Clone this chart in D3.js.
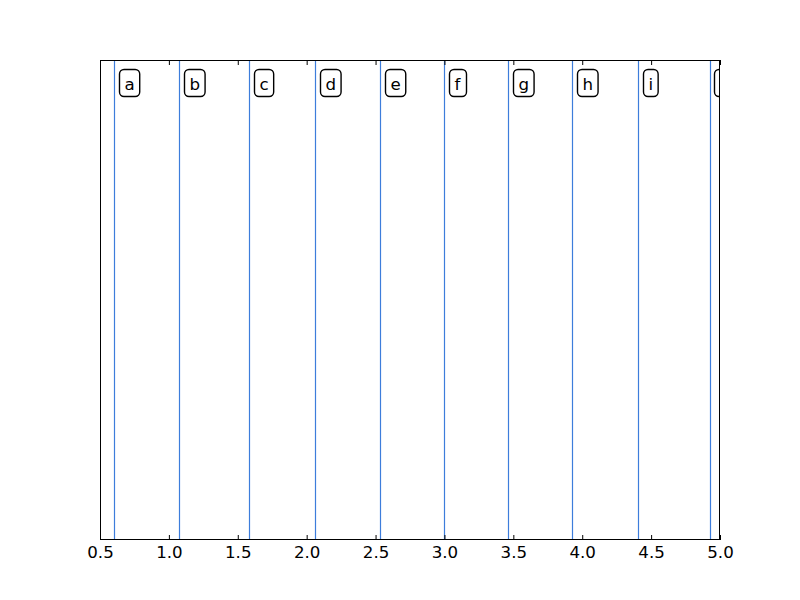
<!DOCTYPE html>
<html><head><meta charset="utf-8">
<script src="https://cdn.jsdelivr.net/npm/d3@7"></script>
<style>body{margin:0;background:#fff}svg{display:block}</style>
</head><body>
<svg id="c" width="800" height="600"></svg>
<script>
const labels = ["a","b","c","d","e","f","g","h","i","j"];
const positions = [0.605, 1.070, 1.578, 2.064, 2.532, 3.000, 3.461, 3.929, 4.405, 4.924];
const xTicks = [0.5, 1.0, 1.5, 2.0, 2.5, 3.0, 3.5, 4.0, 4.5, 5.0];
const xDomain = [0.5, 5.0];

const svg = d3.select("#c");
const m = {left:100, right:720, top:60, bottom:540};
const x = d3.scaleLinear().domain(xDomain).range([m.left, m.right]);
const y = d3.scaleLinear().domain([0,1]).range([m.bottom, m.top]);

svg.append("rect").attr("width",800).attr("height",600).attr("fill","#fff");
svg.append("defs").append("clipPath").attr("id","clip")
  .append("rect").attr("x",m.left).attr("y",m.top).attr("width",m.right-m.left).attr("height",m.bottom-m.top);

const plot = svg.append("g").attr("clip-path","url(#clip)");
plot.selectAll("line.v").data(positions).join("line")
  .attr("class","v")
  .attr("x1",d=>Math.round(x(d))+0.5).attr("x2",d=>Math.round(x(d))+0.5)
  .attr("y1",y(0)).attr("y2",y(1))
  .attr("stroke","#3d7ddb").attr("stroke-width",1.2);

const fs = 16.67, pad = 5;
const g = plot.selectAll("g.lab").data(labels).join("g").attr("class","lab");
g.each(function(d,i){
  const sel = d3.select(this);
  const t = sel.append("text").text(d)
    .attr("x", Math.round(x(positions[i])) + 10.5)
    .attr("y", 89.5)
    .attr("font-family","DejaVu Sans").attr("font-size",fs).attr("fill","#000");
  const bb = t.node().getBBox();
  sel.insert("rect","text")
    .attr("x", bb.x - pad).attr("y", 69.5)
    .attr("width", bb.width + 2*pad).attr("height", 27)
    .attr("rx",4.5).attr("ry",4.5)
    .attr("fill","#fff").attr("stroke","#000").attr("stroke-width",1.4);
});

// spines
svg.append("rect").attr("x",m.left+0.5).attr("y",m.top+0.5)
  .attr("width",m.right-m.left-1).attr("height",m.bottom-m.top-1)
  .attr("fill","none").attr("stroke","#000").attr("stroke-width",1);

// ticks (inward) bottom and top
const bottomAxis = d3.axisBottom(x).tickValues(xTicks).tickFormat(d3.format(".1f")).tickSizeInner(-5).tickSizeOuter(0).tickPadding(6);
const ga = svg.append("g").attr("transform",`translate(0,${m.bottom})`).call(bottomAxis);
ga.select(".domain").remove();
ga.selectAll("text").attr("font-family","DejaVu Sans").attr("font-size",16.67).attr("fill","#000");
ga.selectAll(".tick line").attr("stroke","#000");
const topAxis = d3.axisTop(x).tickValues(xTicks).tickFormat("").tickSizeInner(-5).tickSizeOuter(0);
const gt = svg.append("g").attr("transform",`translate(0,${m.top})`).call(topAxis);
gt.select(".domain").remove();
gt.selectAll(".tick line").attr("stroke","#000");
</script>
</body></html>
